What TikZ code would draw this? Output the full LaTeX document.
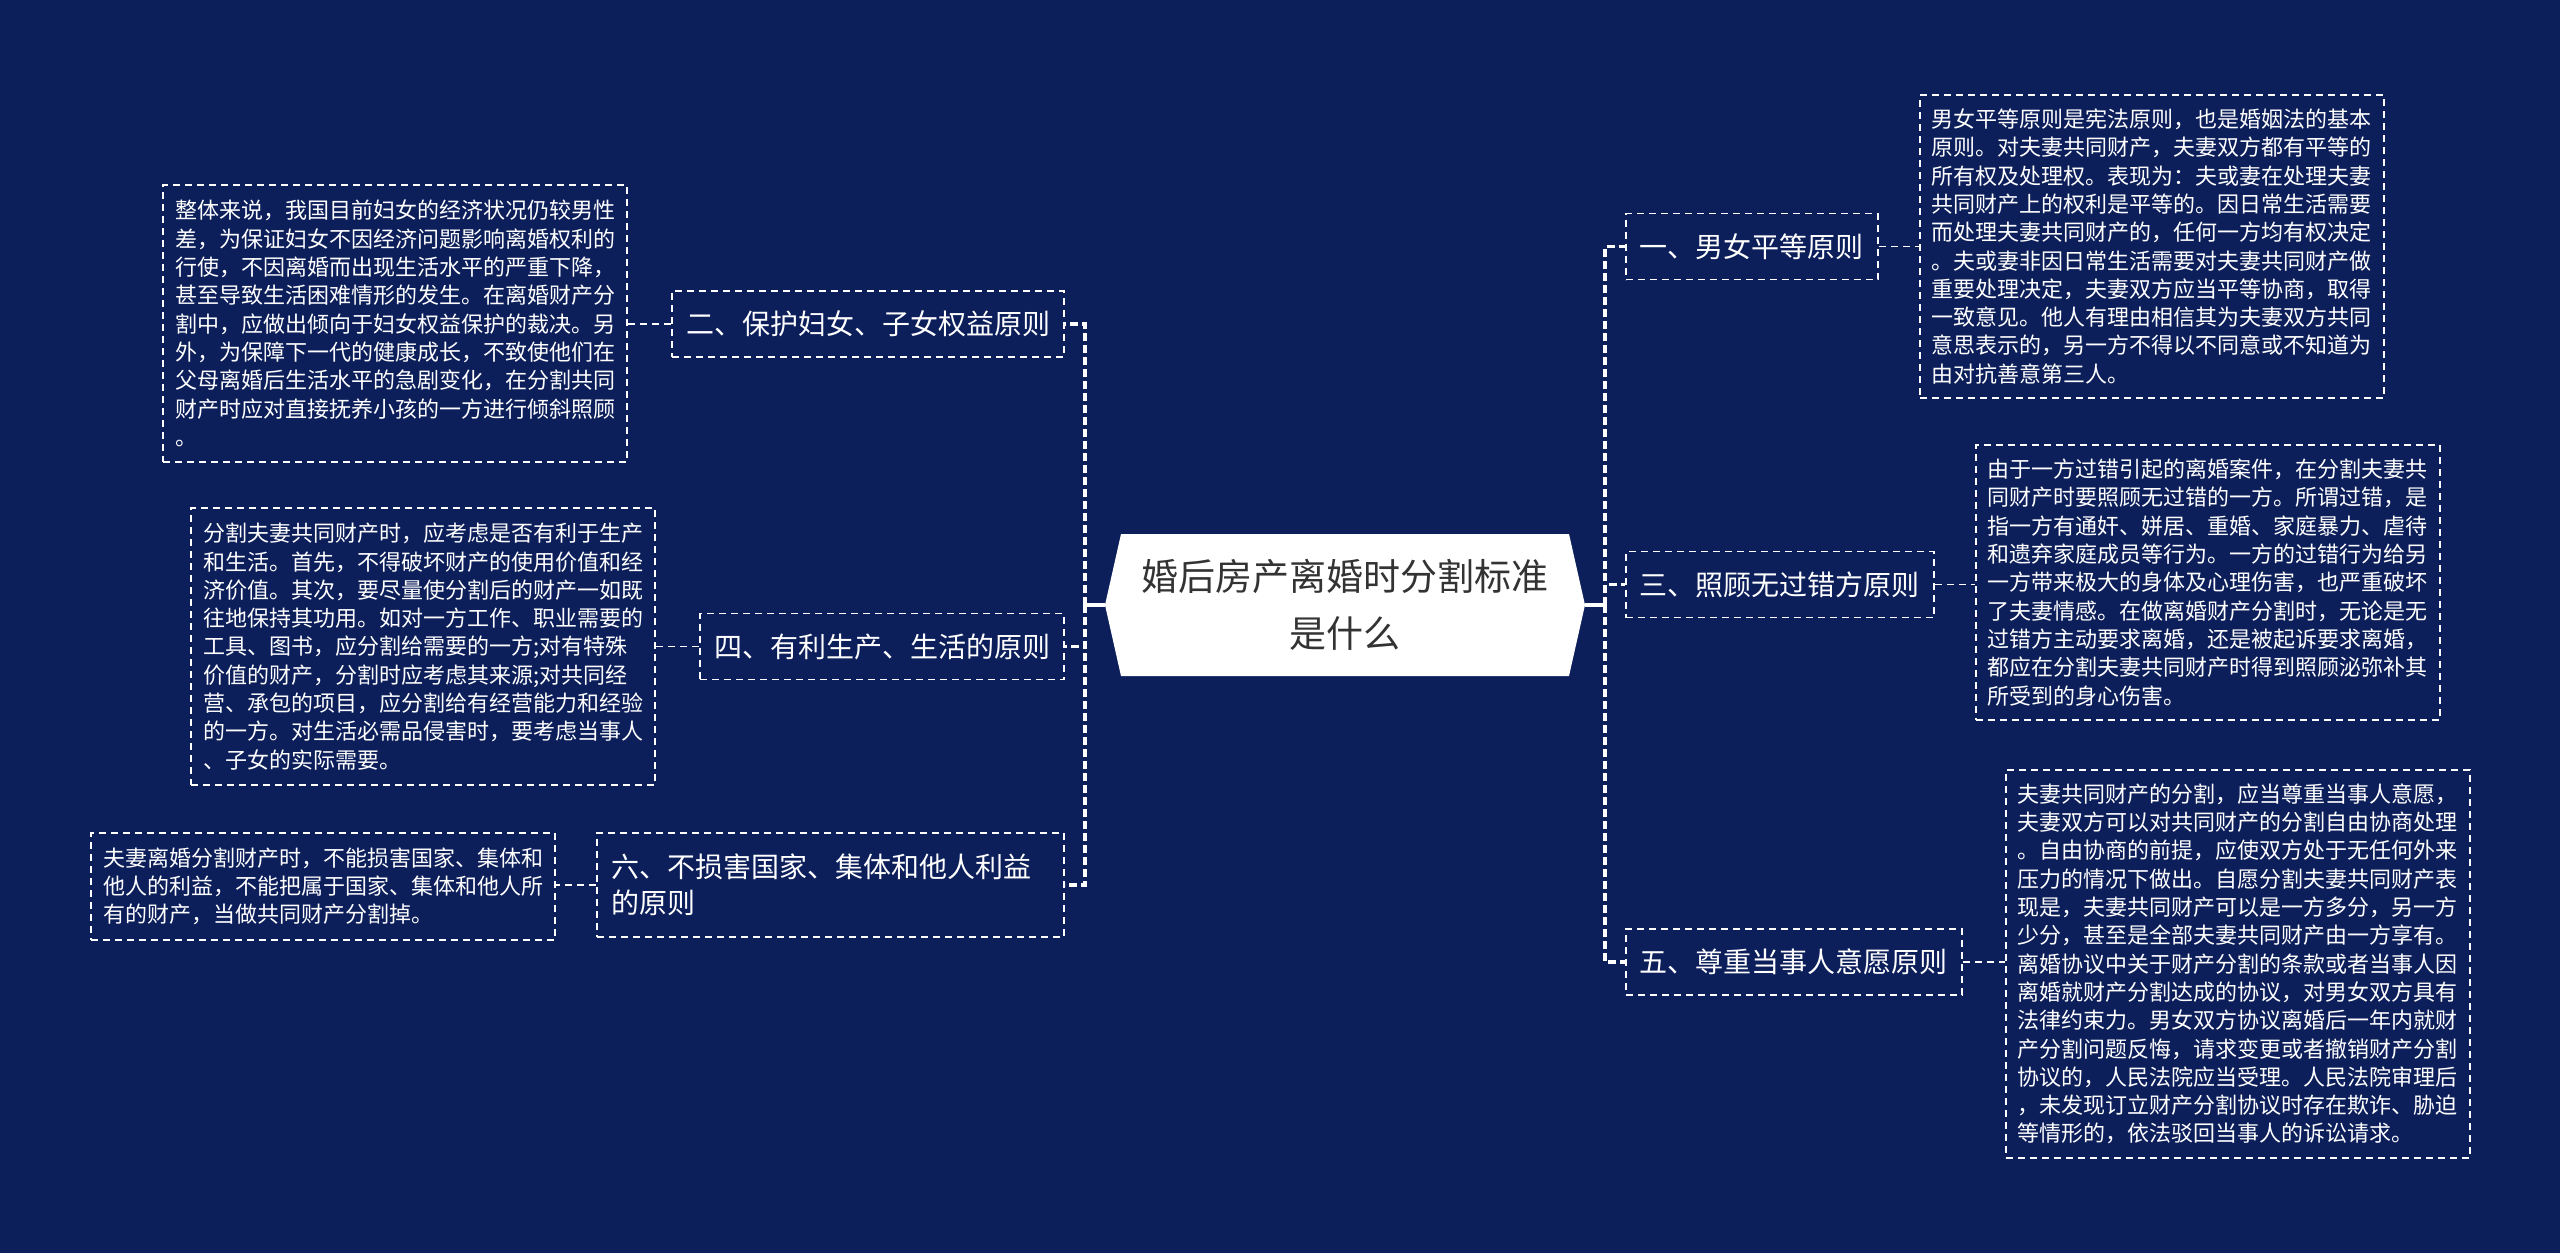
\documentclass[tikz,border=0pt]{standalone}
\usepackage{fontspec}
\setmainfont{Noto Sans CJK SC}
\usepackage{tikz}
\usetikzlibrary{calc}
\definecolor{MapNavy}{HTML}{0C1F5B}
\definecolor{MapInk}{HTML}{333333}
\tikzset{
  topic/.style={minimum width=240pt, minimum height=71pt, inner sep=0pt, align=center,
    text=MapInk, font=\fontsize{18.5pt}{28.5pt}\selectfont},
  principle/.style={draw=white, line width=0.9pt, dash pattern=on 3.5pt off 2.5pt, text=white,
    align=left, inner xsep=7pt, inner ysep=0pt, minimum height=33pt,
    font=\fontsize{14pt}{18pt}\selectfont},
  detail/.style={draw=white, line width=0.9pt, dash pattern=on 3.5pt off 2.5pt, text=white,
    align=left, inner xsep=6pt, inner ysep=5pt, text width=220pt,
    font=\fontsize{11pt}{14.15pt}\selectfont},
  trunkwire/.style={draw=white, line width=1.6pt, dash pattern=on 4pt off 2pt},
  stemwire/.style={draw=white, line width=1.6pt},
  leafwire/.style={draw=white, line width=0.9pt, dash pattern=on 3.5pt off 2.5pt}
}

\begin{document}
\begin{tikzpicture}[x=0.5pt, y=-0.5pt]
  \fill[MapNavy] (0,0) rectangle (2560,1253);
  % central topic
  \fill[white] (1121,534) -- (1569,534) -- (1585,605) -- (1569,676) -- (1121,676) -- (1105,605) -- cycle;
  \node[topic] (hub) at (1345,605) {婚后房产离婚时分割标准\\是什么};
  \coordinate (rjoint) at (1605,605);
  \coordinate (ljoint) at (1085,605);

  % right principles
  \node[principle, anchor=west] (equal) at (1625,246.5) {一、男女平等原则};
  \node[principle, anchor=west] (fault) at (1625,584.5) {三、照顾无过错方原则};
  \node[principle, anchor=west] (will) at (1625,962) {五、尊重当事人意愿原则};

  % left principles
  \node[principle, anchor=east] (women) at (1065,324) {二、保护妇女、子女权益原则};
  \node[principle, anchor=east] (produce) at (1065,646.5) {四、有利生产、生活的原则};
  \node[principle, anchor=east, text width=219.5pt, minimum height=52pt] (public) at (1065,885)
    {六、不损害国家、集体和他人利益\\的原则};

  % details
  \node[detail, anchor=west, minimum height=151.5pt] (equaltext) at (1919,246.5) {男女平等原则是宪法原则，也是婚姻法的基本\\
原则。对夫妻共同财产，夫妻双方都有平等的\\
所有权及处理权。表现为：夫或妻在处理夫妻\\
共同财产上的权利是平等的。因日常生活需要\\
而处理夫妻共同财产的，任何一方均有权决定\\
。夫或妻非因日常生活需要对夫妻共同财产做\\
重要处理决定，夫妻双方应当平等协商，取得\\
一致意见。他人有理由相信其为夫妻双方共同\\
意思表示的，另一方不得以不同意或不知道为\\
由对抗善意第三人。};
  \node[detail, anchor=west, minimum height=137.5pt] (faulttext) at (1975,582.5) {由于一方过错引起的离婚案件，在分割夫妻共\\
同财产时要照顾无过错的一方。所谓过错，是\\
指一方有通奸、姘居、重婚、家庭暴力、虐待\\
和遗弃家庭成员等行为。一方的过错行为给另\\
一方带来极大的身体及心理伤害，也严重破坏\\
了夫妻情感。在做离婚财产分割时，无论是无\\
过错方主动要求离婚，还是被起诉要求离婚，\\
都应在分割夫妻共同财产时得到照顾泌弥补其\\
所受到的身心伤害。};
  \node[detail, anchor=west, minimum height=194pt] (willtext) at (2005,964) {夫妻共同财产的分割，应当尊重当事人意愿，\\
夫妻双方可以对共同财产的分割自由协商处理\\
。自由协商的前提，应使双方处于无任何外来\\
压力的情况下做出。自愿分割夫妻共同财产表\\
现是，夫妻共同财产可以是一方多分，另一方\\
少分，甚至是全部夫妻共同财产由一方享有。\\
离婚协议中关于财产分割的条款或者当事人因\\
离婚就财产分割达成的协议，对男女双方具有\\
法律约束力。男女双方协议离婚后一年内就财\\
产分割问题反悔，请求变更或者撤销财产分割\\
协议的，人民法院应当受理。人民法院审理后\\
，未发现订立财产分割协议时存在欺诈、胁迫\\
等情形的，依法驳回当事人的诉讼请求。};
  \node[detail, anchor=east, minimum height=138.5pt] (womentext) at (628,323.5) {整体来说，我国目前妇女的经济状况仍较男性\\
差，为保证妇女不因经济问题影响离婚权利的\\
行使，不因离婚而出现生活水平的严重下降，\\
甚至导致生活困难情形的发生。在离婚财产分\\
割中，应做出倾向于妇女权益保护的裁决。另\\
外，为保障下一代的健康成长，不致使他们在\\
父母离婚后生活水平的急剧变化，在分割共同\\
财产时应对直接抚养小孩的一方进行倾斜照顾\\
。};
  \node[detail, anchor=east, minimum height=138.5pt] (producetext) at (656,646.5) {分割夫妻共同财产时，应考虑是否有利于生产\\
和生活。首先，不得破坏财产的使用价值和经\\
济价值。其次，要尽量使分割后的财产一如既\\
往地保持其功用。如对一方工作、职业需要的\\
工具、图书，应分割给需要的一方;对有特殊\\
价值的财产，分割时应考虑其来源;对共同经\\
营、承包的项目，应分割给有经营能力和经验\\
的一方。对生活必需品侵害时，要考虑当事人\\
、子女的实际需要。};
  \node[detail, anchor=east, minimum height=53.5pt] (publictext) at (556,886.5) {夫妻离婚分割财产时，不能损害国家、集体和\\
他人的利益，不能把属于国家、集体和他人所\\
有的财产，当做共同财产分割掉。};

  % connectors
  \draw[stemwire] (hub.east) -- (rjoint);
  \draw[stemwire] (hub.west) -- (ljoint);
  \foreach \b in {equal,fault,will}
    \draw[trunkwire] (rjoint) |- (\b.west);
  \foreach \b in {women,produce,public}
    \draw[trunkwire] (ljoint) |- (\b.east);
  \foreach \b in {equal,fault,will}
    \draw[leafwire] (\b.east) -- (\b.east -| \b text.west);
  \foreach \b in {women,produce,public}
    \draw[leafwire] (\b.west) -- (\b.west -| \b text.east);
\end{tikzpicture}
\end{document}
